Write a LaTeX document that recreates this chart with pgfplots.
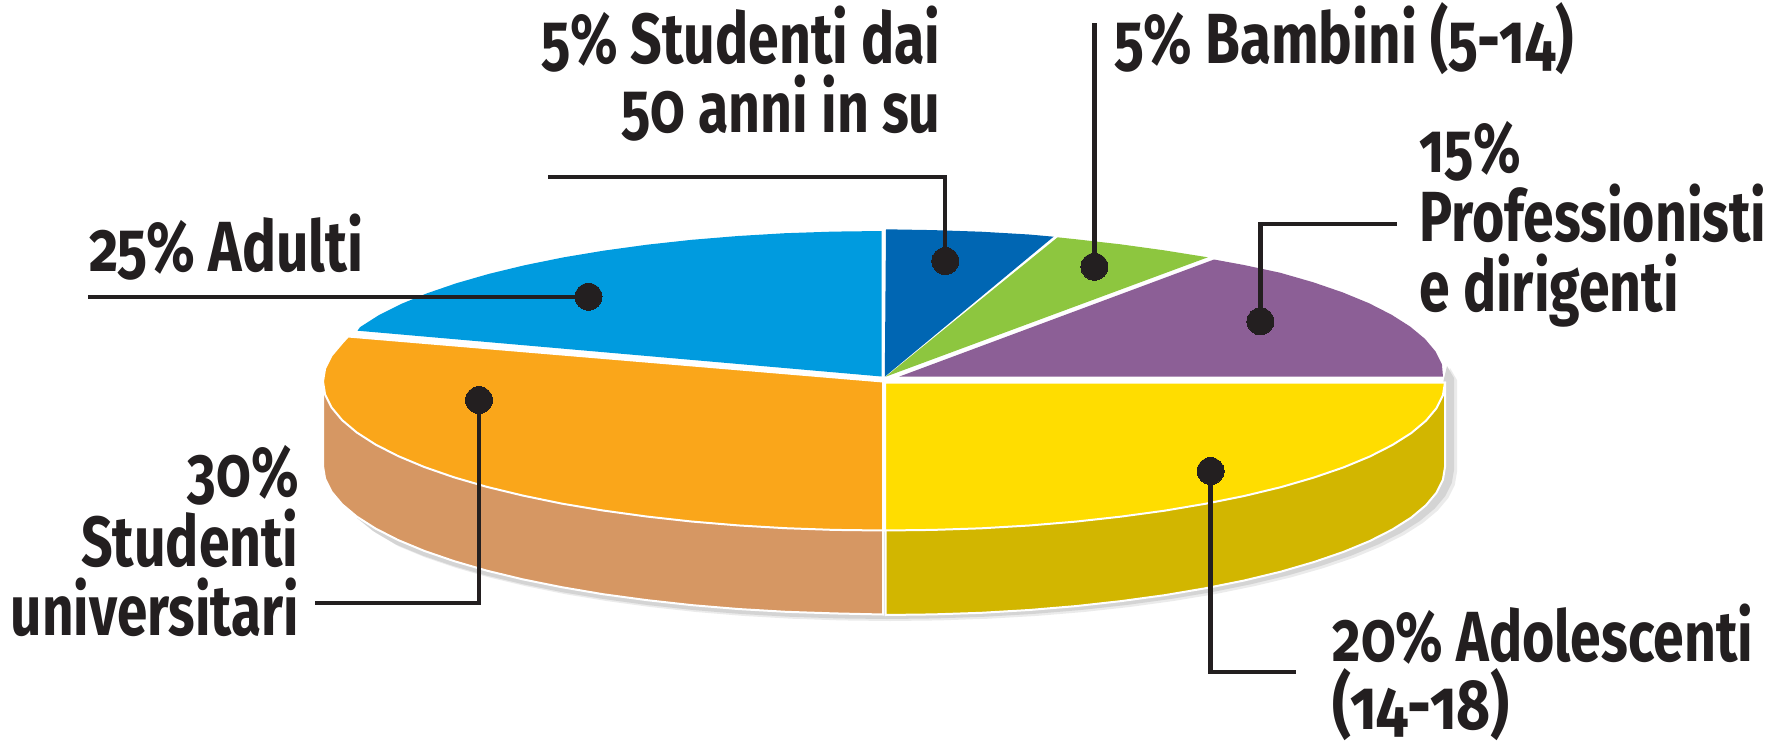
\documentclass[border=0pt]{standalone}
\usepackage{fontspec}
\setmainfont{Fira Sans}[Numbers=OldStyle,FakeStretch=0.78]
\usepackage{pgfplots}
\usepackage{pgfplotstable}
\pgfplotsset{compat=1.18}
\definecolor{cblue}{HTML}{009BDF}
\definecolor{cnavy}{HTML}{0066B3}
\definecolor{cgreen}{HTML}{8DC63F}
\definecolor{cpurple}{HTML}{8C5F96}
\definecolor{cyellow}{HTML}{FFDD00}
\definecolor{colive}{HTML}{D2B600}
\definecolor{corange}{HTML}{FAA61A}
\definecolor{ctan}{HTML}{D69763}
\definecolor{cink}{HTML}{231F20}
\pgfplotstableread{
x y
1450 368
1457 380
1457 472
1454.8 485
1448.4 497.9
1437.7 510.6
1422.8 523
1403.9 535
1381 546.5
1354.5 557.5
1324.3 567.8
1290.9 577.4
1254.5 586.1
1215.2 594.1
1173.5 601
1129.6 607
1083.9 612
1036.8 615.9
988.5 618.7
939.4 620.4
890 621
840.6 620.4
791.5 618.7
743.2 615.9
696.1 612
650.4 607
606.5 601
564.8 594.1
525.5 586.1
489.1 577.4
455.7 567.8
425.5 557.5
399 546.5
376.1 533
360 520
890 450
1446 385
}\shadowtable
\newcommand{\lab}[4]{\node[anchor=base #1,inner sep=0pt,text=cink,font=\fontsize{35.5}{35.5}\selectfont\bfseries] at (axis cs:#2,#3) {#4};}
\begin{document}
\begin{tikzpicture}
\path[use as bounding box] (0,0) rectangle (892.5pt,372.5pt);
\begin{axis}[at={(0,0)},anchor=south west,scale only axis,width=892.5pt,height=372.5pt,
  xmin=0,xmax=1785,ymin=0,ymax=745,y dir=reverse,hide axis,clip=false]
% shadow
\addplot[fill=black!8,draw=none,mark=none] table[x=x,y=y] {\shadowtable};
\addplot[fill=black!17,draw=none,mark=none] table[x expr=\thisrow{x}-3,y expr=\thisrow{y}-2] {\shadowtable};
% walls
\addplot[fill=colive,draw=white,line width=1pt,mark=none] coordinates {(885.5,382.5)(1445,382.5)(1445,467)(1442.9,479.9)(1436.5,492.7)(1425.9,505.3)(1411.2,517.6)(1392.4,529.5)(1369.8,541)(1343.5,551.9)(1313.7,562.1)(1280.7,571.7)(1244.6,580.4)(1205.8,588.2)(1164.5,595.2)(1121.1,601.1)(1075.9,606.1)(1029.2,610)(981.4,612.8)(932.9,614.4)(885.5,615)(885.5,382.5)};
\addplot[fill=ctan,draw=white,line width=1pt,mark=none] coordinates {(883,381.5)(323,381.5)(323,466)(325.1,478.9)(331.5,491.7)(342.1,504.3)(356.8,516.6)(375.5,528.5)(398,540)(424.3,550.9)(454,561.1)(487,570.7)(523,579.4)(561.8,587.2)(603,594.2)(646.5,600.1)(691.5,605.1)(738.1,609)(785.8,611.8)(834.2,613.4)(883,614.5)(883,381.5)};
% lower faces
\addplot[fill=corange,draw=white,line width=1pt,mark=none] coordinates {(883,381.5)(348,336.5)(342.1,343)(331.5,355.6)(325.1,368.5)(323,381.5)(325.1,394.5)(331.5,407.4)(342.1,420.1)(356.8,432.5)(375.5,444.5)(398,456)(424.3,467)(454,477.3)(487,486.9)(523,495.6)(561.8,503.6)(603,510.5)(646.5,516.5)(691.5,521.5)(738.1,525.4)(785.8,528.2)(834.2,529.9)(883,530.5)(883,381.5)};
\addplot[fill=cyellow,draw=white,line width=1pt,mark=none] coordinates {(885,382.5)(1445,382.5)(1442.9,395.4)(1436.5,408.2)(1425.9,420.8)(1411.2,433.1)(1392.4,445)(1369.8,456.5)(1343.5,467.4)(1313.7,477.6)(1280.7,487.2)(1244.6,495.9)(1205.8,503.7)(1164.5,510.7)(1121.1,516.6)(1075.9,521.6)(1029.2,525.5)(981.4,528.3)(932.9,529.9)(885,530.5)(885,382.5)};
% upper faces
\addplot[fill=cblue,draw=none,mark=none] coordinates {(881.6,376.5)(881.6,231)(833.2,231.6)(785.2,233.2)(738,236)(691.8,239.8)(647,244.7)(604.1,250.6)(563.3,257.4)(524.8,265.2)(489.2,273.8)(456.5,283.2)(427,293.3)(401,304)(378.6,315.3)(360.1,327.1)(357.5,330.7)};
\addplot[fill=cnavy,draw=none,mark=none] coordinates {(884.8,376.7)(886,229.3)(932.8,230.1)(981.2,231.7)(1028.9,234.5)(1053.6,236.7)};
\addplot[fill=cgreen,draw=none,mark=none] coordinates {(885.6,376.7)(1057.6,237.3)(1075.5,239.2)(1120.5,244.3)(1164,250.3)(1207.8,257.3)};
\addplot[fill=cpurple,draw=none,mark=none] coordinates {(899,376.7)(1214,259.5)(1244,265)(1280,272.7)(1313,282.2)(1342.7,292.4)(1369,303.2)(1391.5,314.7)(1410.2,326.6)(1424.9,338.8)(1435.5,351.4)(1441.9,364.1)(1443,376.7)};
% leader lines
\pgfplotsset{lead/.style={draw=cink,line width=2.15pt,mark=none}}
\addplot[lead] coordinates {(88,296.7)(588.5,296.7)};
\addplot[lead] coordinates {(479,400)(479,602.7)(314.5,602.7)};
\addplot[lead] coordinates {(945.3,261)(945.3,177.3)(547.7,177.3)};
\addplot[lead] coordinates {(1094.4,266.7)(1094.4,23.3)};
\addplot[lead] coordinates {(1260.4,321.3)(1260.4,224)(1396.8,224)};
\addplot[lead] coordinates {(1210.6,471)(1210.6,671.7)(1295.5,671.7)};
% dots
\addplot[only marks,mark=*,mark size=6.75pt,mark options={draw=cink,fill=cink,line width=0pt}] coordinates {(588.5,296.7)(479,400)(945.3,261)(1094.4,266.7)(1260.4,321.3)(1210.6,471)};
% labels
\lab{east}{941}{63.3}{5\% Studenti dai}
\lab{east}{941}{132.7}{50 anni in su}
\lab{west}{1114}{63.3}{\scalebox{1.02}[1]{5\% Bambini (5-14)}}
\lab{west}{1419}{172.7}{15\%}
\lab{west}{1419}{241.7}{Professionisti}
\lab{west}{1419}{311.7}{e dirigenti}
\lab{west}{89}{271}{\scalebox{1.025}[1]{25\% Adulti}}
\lab{east}{299}{496.7}{30\%}
\lab{east}{299}{566}{Studenti}
\lab{east}{299}{635}{\scalebox{0.99}[1]{universitari}}
\lab{west}{1332}{661.7}{20\% Adolescenti}
\lab{west}{1332}{729}{\scalebox{1.06}[1]{(14-18)}}
\end{axis}
\end{tikzpicture}
\end{document}
